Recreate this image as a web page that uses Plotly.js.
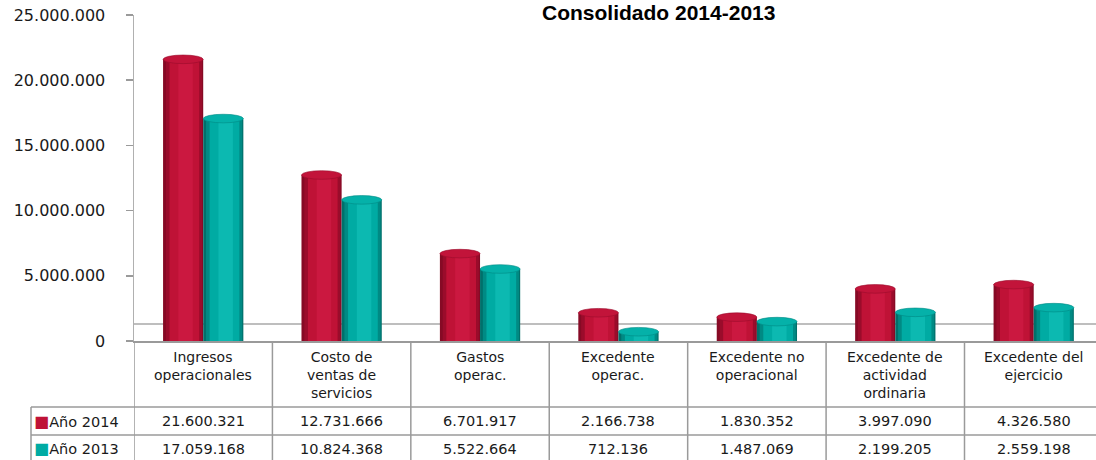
<!DOCTYPE html>
<html>
<head>
<meta charset="utf-8">
<script src="https://cdn.plot.ly/plotly-3.0.1.min.js"></script>
<style>html,body{margin:0;padding:0;background:#fff;}#chart{width:1096px;height:460px;}</style>
</head>
<body>
<div id="chart"></div>
<script>
// ---- data ----
const categories = [
  "Ingresos<br>operacionales",
  "Costo de<br>ventas de<br>servicios",
  "Gastos<br>operac.",
  "Excedente<br>operac.",
  "Excedente no<br>operacional",
  "Excedente de<br>actividad<br>ordinaria",
  "Excedente del<br>ejercicio"
];
const seriesNames = ["Año 2014", "Año 2013"];
const values2014 = [21600321, 12731666, 6701917, 2166738, 1830352, 3997090, 4326580];
const values2013 = [17059168, 10824368, 5522664, 712136, 1487069, 2199205, 2559198];
const tickValues = [0, 5000000, 10000000, 15000000, 20000000, 25000000];
const tickLabels = ["0", "5.000.000", "10.000.000", "15.000.000", "20.000.000", "25.000.000"];
const titleText = "Consolidado 2014-2013";

// ---- styling / layout helpers ----
const W = 1096, H = 460;
const plotLeft = 134, plotTop = 15, plotBottom = 341;
const plotH = plotBottom - plotTop, plotW = W - plotLeft;
const yp = py => (plotBottom - py) / plotH;
const xp = px => (px - plotLeft) / plotW;
const fmt = v => String(v).replace(/\B(?=(\d{3})+(?!\d))/g, ".");

const palettes = [
  {dark: "#860a25", main: "#bf1236", light: "#cb1840", cap: "#c2143a", edge: "#9a0c2b"},
  {dark: "#00706b", main: "#00aba3", light: "#0cb9b1", cap: "#05b1a9", edge: "#008a84"}
];
const barW = 0.29;
const offsets = [-barW, 0];
const xs = categories.map((c, i) => i);
const allSeries = [values2014, values2013];

const traces = [];
const shapes = [];
allSeries.forEach((vals, s) => {
  const p = palettes[s];
  const layers = [
    {c: p.dark, o: 0, w: 1},
    {c: p.edge, o: 0.07, w: 0.90},
    {c: p.main, o: 0.16, w: 0.74},
    {c: p.light, o: 0.38, w: 0.36}
  ];
  layers.forEach(L => {
    traces.push({
      type: "bar", x: xs, y: vals,
      offset: offsets[s] + L.o * barW, width: L.w * barW,
      marker: {color: L.c, line: {width: 0}},
      showlegend: false, hoverinfo: "skip"
    });
  });
  vals.forEach((v, i) => {
    shapes.push({
      type: "circle", xref: "x", yref: "y",
      x0: i + offsets[s], x1: i + offsets[s] + barW,
      y0: v - 330000, y1: v + 330000,
      fillcolor: p.cap, line: {color: p.edge, width: 0.6}
    });
  });
});

const grid = "#9a9a9a";
// floor back edge
shapes.push({type: "line", xref: "paper", yref: "paper", x0: 0, x1: 1, y0: yp(324), y1: yp(324), line: {color: "#a8a8a8", width: 1.5}, layer: "below"});
// table vertical lines
for (let k = 0; k <= categories.length - 1; k++) {
  shapes.push({type: "line", xref: "x", yref: "paper", x0: k - 0.5, x1: k - 0.5, y0: 0, y1: yp(462), line: {color: grid, width: 1.5}});
}
// legend column left border
shapes.push({type: "line", xref: "paper", yref: "paper", x0: xp(31), x1: xp(31), y0: yp(407), y1: yp(462), line: {color: grid, width: 1.5}});
// horizontal row lines
[407, 435].forEach(py => {
  shapes.push({type: "line", xref: "paper", yref: "paper", x0: xp(31), x1: 1.01, y0: yp(py), y1: yp(py), line: {color: grid, width: 1.5}});
});

const tblFont = {family: "DejaVu Sans, Verdana, sans-serif", size: 14.5, color: "#1a1a1a"};
const annotations = [];
categories.forEach((c, i) => {
  annotations.push({xref: "x", yref: "paper", x: i, y: yp(347), yanchor: "top", xanchor: "center",
    text: c, showarrow: false, font: {family: tblFont.family, size: 14, color: "#1a1a1a"}, align: "center"});
  annotations.push({xref: "x", yref: "paper", x: i, y: yp(421), yanchor: "middle", xanchor: "center",
    text: fmt(values2014[i]), showarrow: false, font: tblFont});
  annotations.push({xref: "x", yref: "paper", x: i, y: yp(449), yanchor: "middle", xanchor: "center",
    text: fmt(values2013[i]), showarrow: false, font: tblFont});
});
seriesNames.forEach((n, s) => {
  annotations.push({xref: "paper", yref: "paper", x: xp(32), y: yp(s === 0 ? 421 : 449), xanchor: "left", yanchor: "middle",
    text: '<span style="color:' + palettes[s].main + '; font-size:16px">■</span>' + n, showarrow: false, font: tblFont});
});
annotations.push({xref: "paper", yref: "paper", x: xp(658), y: yp(-1), xanchor: "center", yanchor: "top",
  text: "<b>" + titleText + "</b>", showarrow: false, font: {family: "Liberation Sans, Arial, sans-serif", size: 21, color: "#000"}});

const layout = {
  width: W, height: H,
  margin: {l: plotLeft, r: 0, t: plotTop, b: H - plotBottom, pad: 0},
  paper_bgcolor: "#fff", plot_bgcolor: "#fff",
  barmode: "overlay",
  showlegend: false,
  xaxis: {range: [-0.5, 6.45], showticklabels: false, ticks: "", showgrid: false, zeroline: false,
    showline: true, linecolor: grid, linewidth: 1.5, fixedrange: true},
  yaxis: {range: [0, 25000000], tickvals: tickValues, ticktext: tickLabels, ticks: "outside", ticklen: 7,
    tickcolor: grid, tickwidth: 1.5, showgrid: false, zeroline: false, showline: true, linecolor: "#b0b0b0", linewidth: 1.5,
    ticklabelstandoff: 17, tickfont: {family: "DejaVu Sans, Verdana, sans-serif", size: 16, color: "#1a1a1a"}, fixedrange: true},
  shapes: shapes,
  annotations: annotations
};

Plotly.newPlot("chart", traces, layout, {displayModeBar: false, staticPlot: true});
</script>
</body>
</html>
